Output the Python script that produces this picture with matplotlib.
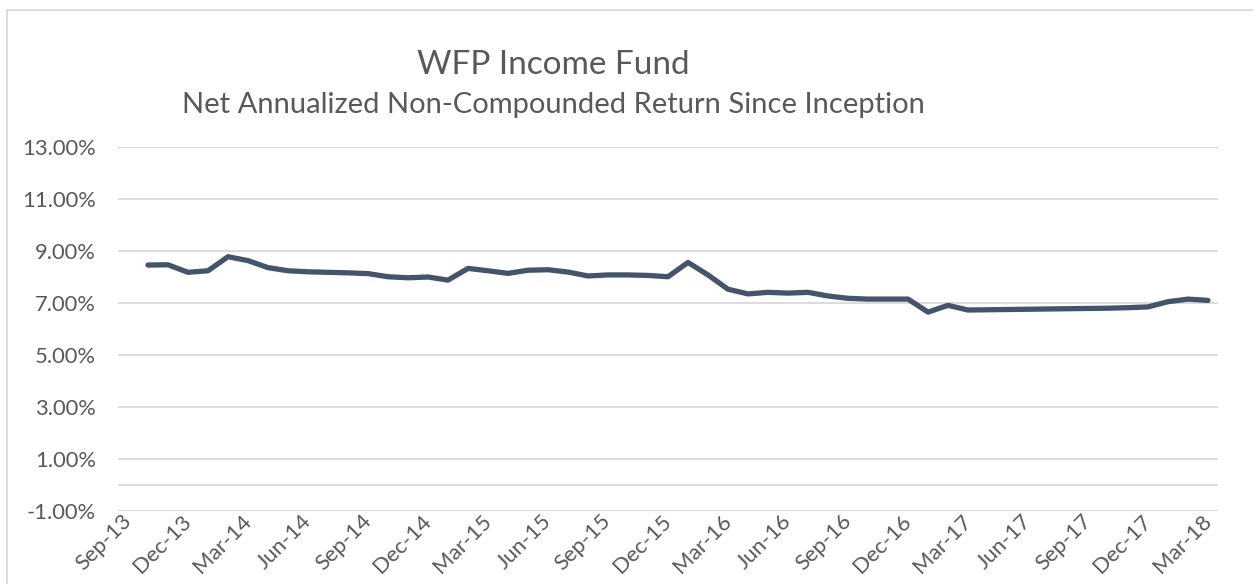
import numpy as np
import pandas as pd
import matplotlib
matplotlib.use('Agg')
import matplotlib.pyplot as plt
from matplotlib.patches import Rectangle

plt.rcParams['font.family'] = ['Lato', 'DejaVu Sans']

# monthly categories Sep-13 .. Mar-18, the fund data starts Oct-13
months = pd.date_range('2013-09-01', '2018-03-01', freq='MS')
month_labels = [m.strftime('%b-%y') for m in months]

# net annualized non-compounded return since inception, in %, Oct-13 .. Mar-18
returns = [8.46, 8.47, 8.18,
           8.24, 8.78, 8.63, 8.36, 8.24, 8.20, 8.18, 8.16, 8.13, 8.01, 7.97, 8.00,
           7.88, 8.33, 8.24, 8.14, 8.26, 8.28, 8.19, 8.04, 8.08, 8.08, 8.06, 8.01,
           8.56, 8.08, 7.53, 7.35, 7.41, 7.38, 7.41, 7.27, 7.18, 7.15, 7.15, 7.15,
           6.65, 6.91, 6.73, 6.74, 6.75, 6.76, 6.77, 6.78, 6.79, 6.80, 6.82, 6.85,
           7.05, 7.15, 7.10]
yticks = [-1, 1, 3, 5, 7, 9, 11, 13]

grey = '#595959'
W, H = 1253, 584
fig = plt.figure(figsize=(W / 100, H / 100), dpi=100)
ax = fig.add_axes([118 / W, 1 - 511 / H, 1100 / W, 364 / H])

x = np.arange(len(months) - len(returns), len(months))
ax.plot(x, returns, color='#44546A', lw=3.8, solid_capstyle='round',
        solid_joinstyle='round', zorder=3)

ax.set_xlim(-0.5, len(months) - 0.5)
ax.set_ylim(-1, 13)
ax.set_yticks(yticks)
ax.set_yticklabels([f'{v:.2f}%' for v in yticks])
ax.grid(axis='y', color='#d9d9d9', lw=1.3)
ax.axhline(0, color='#d9d9d9', lw=1.3)
for s in ax.spines.values():
    s.set_visible(False)

xt = np.arange(0, len(months), 3)
ax.set_xticks(xt)
ax.set_xticklabels([month_labels[i] for i in xt], rotation=45, ha='right',
                   va='center', rotation_mode='anchor')
ax.tick_params(axis='x', length=0, pad=5, labelsize=15.8, colors=grey)
ax.tick_params(axis='y', length=0, pad=16, labelsize=15.8, colors=grey)

fig.text(553 / W, 1 - 65 / H, 'WFP Income Fund', ha='center', va='center',
         fontsize=24, color=grey)
fig.text(553 / W, 1 - 105 / H, 'Net Annualized Non-Compounded Return Since Inception',
         ha='center', va='center', fontsize=21, color=grey)

fig.patches.append(Rectangle((7 / W, -0.1), 1.2, 1 - 10 / H + 0.1,
                             transform=fig.transFigure, fill=False,
                             edgecolor='#d9d9d9', lw=1.3))

fig.savefig('out.png', dpi=100)
